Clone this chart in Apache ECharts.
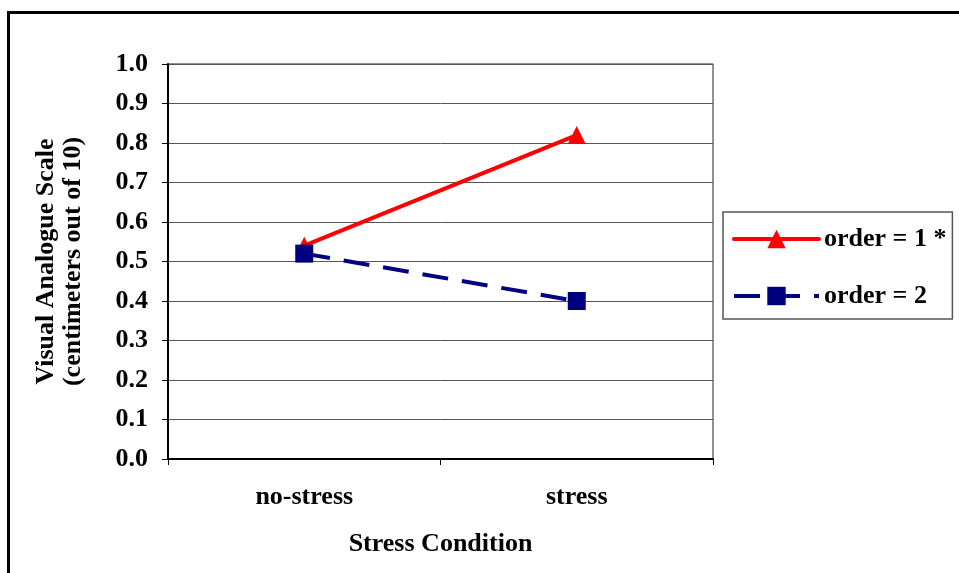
<!DOCTYPE html>
<html>
<head>
<meta charset="utf-8">
<script src="https://cdn.jsdelivr.net/npm/echarts@6/dist/echarts.min.js"></script>
<style>
  html, body { margin: 0; padding: 0; background: #fff; }
  #chart { width: 959px; height: 573px; }
</style>
</head>
<body>
<div id="chart"></div>
<script>
// categories and series values
let conditions = ['no-stress', 'stress'];
let order_1 = [0.54, 0.82];
let order_2 = [0.52, 0.40];
let y_ticks = { min: 0, max: 1, interval: 0.1 };

let font = 'Liberation Serif';
let fsize = 26;

document.addEventListener("DOMContentLoaded", () => {
    draw_chart();
});

function draw_chart() {
    var chart = echarts.init(document.querySelector("#chart"));

    chart.setOption({
        animation: false,
        backgroundColor: '#fff',
        textStyle: { fontFamily: font, fontWeight: 'bold', color: '#000' },
        graphic: [{
            type: 'rect',
            shape: { x: 8.5, y: 12.5, width: 970, height: 600 },
            style: { fill: 'none', stroke: '#000', lineWidth: 3 },
            silent: true
        }],
        grid: {
            left: 168, right: 246, top: 64, bottom: 114,
            show: true, borderColor: '#222', borderWidth: 1
        },
        legend: {
            orient: 'vertical',
            left: 723, top: 212,
            width: 230,
            padding: [14, 6, 10, 9],
            itemGap: 31,
            itemWidth: 85,
            itemHeight: 23,
            borderColor: '#555',
            borderWidth: 1.5,
            borderRadius: 0,
            lineStyle: { width: 4 },
            textStyle: { fontFamily: font, fontWeight: 'bold', fontSize: fsize, color: '#000' },
            data: ['order = 1 *', 'order = 2']
        },
        xAxis: {
            type: 'category',
            data: conditions,
            boundaryGap: true,
            name: 'Stress Condition',
            nameLocation: 'middle',
            nameGap: 72,
            nameTextStyle: { fontFamily: font, fontWeight: 'bold', fontSize: fsize, color: '#000' },
            axisLine: { lineStyle: { color: '#000', width: 2 } },
            axisTick: { show: true, length: 6, lineStyle: { color: '#000', width: 1 } },
            axisLabel: { margin: 25, fontFamily: font, fontWeight: 'bold', fontSize: fsize, color: '#000' },
            splitLine: { show: false }
        },
        yAxis: {
            type: 'value',
            min: y_ticks.min, max: y_ticks.max, interval: y_ticks.interval,
            name: 'Visual Analogue Scale\n(centimeters out of 10)',
            nameLocation: 'middle',
            nameRotate: 90,
            nameGap: 81,
            nameTextStyle: { fontFamily: font, fontWeight: 'bold', fontSize: fsize, color: '#000', lineHeight: 27 },
            axisLine: { show: true, lineStyle: { color: '#000', width: 2 } },
            axisTick: { show: true, length: 6, lineStyle: { color: '#000', width: 1 } },
            axisLabel: {
                margin: 20, fontFamily: font, fontWeight: 'bold', fontSize: fsize, color: '#000',
                formatter: function (v) { return v.toFixed(1); }
            },
            splitLine: { show: true, lineStyle: { color: '#555', width: 1 } }
        },
        series: [{
            name: 'order = 1 *',
            type: 'line',
            data: order_1,
            symbol: 'triangle',
            symbolSize: 18,
            itemStyle: { color: '#ff0000' },
            lineStyle: { color: '#ff0000', width: 4, type: 'solid', cap: 'round' },
            z: 2
        }, {
            name: 'order = 2',
            type: 'line',
            data: order_2,
            symbol: 'rect',
            symbolSize: 18,
            itemStyle: { color: '#000080' },
            lineStyle: { color: '#000080', width: 4, type: [26, 14] },
            z: 3
        }]
    });
}
</script>
</body>
</html>
